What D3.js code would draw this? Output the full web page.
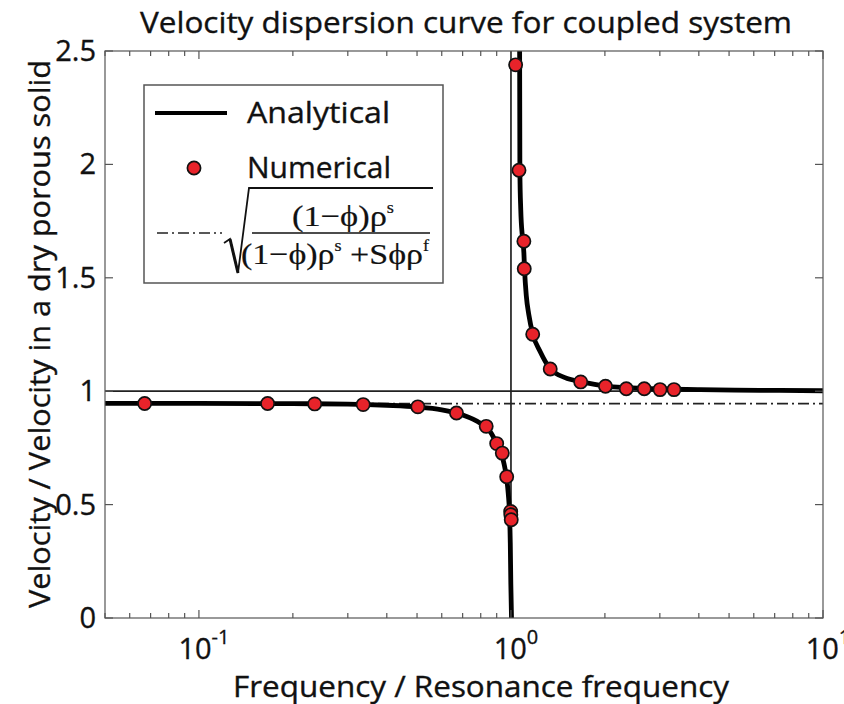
<!DOCTYPE html>
<meta charset="utf-8">
<script src="https://d3js.org/d3.v7.min.js"></script>
<style>
    body { margin: 0; background: #fff; }
    text { font-family: "Open Sans", "Noto Sans", sans-serif; fill: #111; stroke: #111; stroke-width: 0.35px; }
    .serif { font-family: "Liberation Serif", "DejaVu Serif", serif; stroke-width: 0.2px; }
</style>
<body>
<script>
    // plot box
    var margin = {top: 51, right: 21, bottom: 86, left: 105},
        width = 844 - margin.left - margin.right,
        height = 704 - margin.top - margin.bottom;

    // numerical points (frequency / resonance frequency, velocity ratio)
    var lowFreq  = [0.067, 0.166, 0.235, 0.336, 0.503, 0.669, 0.833, 0.900, 0.938, 0.969, 0.998, 0.999, 1.002];
    var lowVel   = [0.946, 0.946, 0.944, 0.941, 0.931, 0.904, 0.845, 0.769, 0.727, 0.623, 0.470, 0.455, 0.433];
    var highFreq = [1.035, 1.061, 1.100, 1.103, 1.174, 1.336, 1.673, 2.009, 2.342, 2.674, 3.004, 3.330];
    var highVel  = [2.439, 1.974, 1.661, 1.540, 1.251, 1.098, 1.041, 1.022, 1.011, 1.011, 1.007, 1.007];

    // analytical curve, two branches
    var curveLowFreq  = [0.05, 0.1, 0.2, 0.3, 0.4, 0.5, 0.6, 0.7, 0.8, 0.85, 0.9, 0.93, 0.95, 0.97, 0.98, 0.99, 0.995, 0.999, 1.004];
    var curveLowVel   = [0.946, 0.946, 0.945, 0.943, 0.938, 0.931, 0.918, 0.895, 0.858, 0.83, 0.77, 0.73, 0.68, 0.61, 0.55, 0.45, 0.33, 0.15, 0.0];
    var curveHighFreq = [1.066, 1.068, 1.075, 1.088, 1.100, 1.106, 1.12, 1.14, 1.176, 1.24, 1.334, 1.49, 1.676, 2.016, 2.79, 4.04, 6.28, 10];
    var curveHighVel  = [2.5, 1.97, 1.80, 1.68, 1.61, 1.53, 1.42, 1.34, 1.25, 1.175, 1.10, 1.06, 1.042, 1.022, 1.011, 1.007, 1.004, 1.002];

    var staticLimit = 0.945;   // dash-dot line
    var yTicks = [0, 0.5, 1, 1.5, 2, 2.5];
    var yTickLabels = ["0", "0.5", "1", "1.5", "2", "2.5"];
    var xMajor = [0.1, 1, 10];
    var xMajorExp = ["-1", "0", "1"];

    var svg = d3.select("body")
        .append("svg")
            .attr("width", 844)
            .attr("height", 704);

    var g = svg.append("g")
        .attr("transform", "translate(" + margin.left + "," + margin.top + ")");

    var x = d3.scaleLog().domain([0.05, 10]).range([0, width]);
    var y = d3.scaleLinear().domain([0, 2.5]).range([height, 0]);

    g.append("clipPath").attr("id", "clip")
      .append("rect").attr("width", width).attr("height", height);

    var plot = g.append("g").attr("clip-path", "url(#clip)");

    // reference lines: v = 1 and f = 1
    plot.append("line")
        .attr("x1", 0).attr("x2", width)
        .attr("y1", y(1)).attr("y2", y(1))
        .attr("stroke", "#222").attr("stroke-width", 1.7);
    plot.append("line")
        .attr("x1", x(1)).attr("x2", x(1))
        .attr("y1", 0).attr("y2", height)
        .attr("stroke", "#222").attr("stroke-width", 1.7);

    // dash-dot static limit
    plot.append("line")
        .attr("x1", 0).attr("x2", width)
        .attr("y1", y(staticLimit)).attr("y2", y(staticLimit))
        .attr("stroke", "#222").attr("stroke-width", 1.7)
        .attr("stroke-dasharray", "11,4,2,4");

    var line = d3.line()
        .x(function(d) { return x(d[0]); })
        .y(function(d) { return y(d[1]); })
        .curve(d3.curveMonotoneX);

    var lowCurve = curveLowFreq.map(function(f, i) { return [f, curveLowVel[i]]; });
    var highCurve = curveHighFreq.map(function(f, i) { return [f, curveHighVel[i]]; });

    [lowCurve, highCurve].forEach(function(c) {
        plot.append("path")
            .datum(c)
            .attr("d", line)
            .attr("fill", "none")
            .attr("stroke", "#000")
            .attr("stroke-width", 4.8)
            .attr("stroke-linejoin", "round");
    });

    var pts = lowFreq.map(function(f, i) { return [f, lowVel[i]]; })
        .concat(highFreq.map(function(f, i) { return [f, highVel[i]]; }));

    plot.selectAll("circle.pt")
        .data(pts)
        .enter()
        .append("circle")
            .attr("class", "pt")
            .attr("cx", function(d) { return x(d[0]); })
            .attr("cy", function(d) { return y(d[1]); })
            .attr("r", 6.6)
            .attr("fill", "#e8232a")
            .attr("stroke", "#111")
            .attr("stroke-width", 1.7);

    // frame
    g.append("rect")
        .attr("width", width).attr("height", height)
        .attr("fill", "none").attr("stroke", "#555").attr("stroke-width", 1.2);

    // x ticks, inward on bottom and top
    var xt = x.ticks();
    xt.forEach(function(t) {
        var major = Math.abs(Math.log10(t) - Math.round(Math.log10(t))) < 1e-9;
        var len = major ? 8 : 5;
        g.append("line").attr("x1", x(t)).attr("x2", x(t))
            .attr("y1", height).attr("y2", height - len)
            .attr("stroke", "#555").attr("stroke-width", 1.2);
        g.append("line").attr("x1", x(t)).attr("x2", x(t))
            .attr("y1", 0).attr("y2", len)
            .attr("stroke", "#555").attr("stroke-width", 1.2);
    });

    xMajor.forEach(function(t, i) {
        var lbl = g.append("text")
            .attr("x", x(t) + 5)
            .attr("y", height + 41)
            .attr("text-anchor", "middle")
            .style("font-size", "29px");
        lbl.append("tspan").text("10");
        lbl.append("tspan").attr("dy", -15).style("font-size", "20px").text(xMajorExp[i]);
    });

    // y ticks
    yTicks.forEach(function(t, i) {
        g.append("line").attr("x1", 0).attr("x2", 8)
            .attr("y1", y(t)).attr("y2", y(t))
            .attr("stroke", "#555").attr("stroke-width", 1.2);
        g.append("line").attr("x1", width).attr("x2", width - 8)
            .attr("y1", y(t)).attr("y2", y(t))
            .attr("stroke", "#555").attr("stroke-width", 1.2);
        g.append("text")
            .attr("x", -9)
            .attr("y", y(t) + 10)
            .attr("text-anchor", "end")
            .style("font-size", "29px")
            .text(yTickLabels[i]);
    });

    // titles
    svg.append("text")
        .attr("x", 466).attr("y", 33)
        .attr("text-anchor", "middle")
        .attr("textLength", 652).attr("lengthAdjust", "spacingAndGlyphs")
        .style("font-size", "30px")
        .text("Velocity dispersion curve for coupled system");

    svg.append("text")
        .attr("x", 481).attr("y", 697)
        .attr("text-anchor", "middle")
        .attr("textLength", 496).attr("lengthAdjust", "spacingAndGlyphs")
        .style("font-size", "29px")
        .text("Frequency / Resonance frequency");

    svg.append("text")
        .attr("transform", "translate(50,334) rotate(-90)")
        .attr("text-anchor", "middle")
        .attr("textLength", 548).attr("lengthAdjust", "spacingAndGlyphs")
        .style("font-size", "30px")
        .text("Velocity / Velocity in a dry porous solid");

    // legend
    var lg = svg.append("g");
    lg.append("rect")
        .attr("x", 144).attr("y", 85).attr("width", 299).attr("height", 198)
        .attr("fill", "#fff").attr("stroke", "#555").attr("stroke-width", 1.5);

    lg.append("line").attr("x1", 155).attr("x2", 227).attr("y1", 113).attr("y2", 113)
        .attr("stroke", "#000").attr("stroke-width", 4);
    lg.append("text").attr("x", 247).attr("y", 123)
        .attr("textLength", 143).attr("lengthAdjust", "spacingAndGlyphs")
        .style("font-size", "30px").text("Analytical");

    lg.append("circle").attr("cx", 194).attr("cy", 168).attr("r", 6.6)
        .attr("fill", "#e8232a").attr("stroke", "#111").attr("stroke-width", 1.7);
    lg.append("text").attr("x", 247).attr("y", 178)
        .attr("textLength", 144).attr("lengthAdjust", "spacingAndGlyphs")
        .style("font-size", "30px").text("Numerical");

    lg.append("line").attr("x1", 157).attr("x2", 222).attr("y1", 233).attr("y2", 233)
        .attr("stroke", "#222").attr("stroke-width", 1.7)
        .attr("stroke-dasharray", "11,4,2,4");

    // square root of the fraction
    lg.append("path")
        .attr("d", "M224,243 L230,239 L238,273 L249,188 L433,188")
        .attr("fill", "none").attr("stroke", "#111").attr("stroke-width", 1.8)
        .attr("stroke-linejoin", "miter");
    lg.append("path")
        .attr("d", "M230,239 L238,273")
        .attr("fill", "none").attr("stroke", "#111").attr("stroke-width", 3);
    lg.append("line").attr("x1", 252).attr("x2", 430).attr("y1", 233).attr("y2", 233)
        .attr("stroke", "#111").attr("stroke-width", 1.6);

    var num = lg.append("text").attr("class", "serif")
        .attr("x", 292).attr("y", 226)
        .attr("textLength", 102).attr("lengthAdjust", "spacingAndGlyphs")
        .style("font-size", "30px");
    num.append("tspan").text("(1\u2212\u03d5)\u03c1");
    num.append("tspan").attr("dy", -13).style("font-size", "16px").text("s");

    var den = lg.append("text").attr("class", "serif")
        .attr("x", 241).attr("y", 264)
        .attr("textLength", 188).attr("lengthAdjust", "spacingAndGlyphs")
        .style("font-size", "30px");
    den.append("tspan").text("(1\u2212\u03d5)\u03c1");
    den.append("tspan").attr("dy", -13).style("font-size", "16px").text("s");
    den.append("tspan").attr("dy", 13).text(" +S\u03d5\u03c1");
    den.append("tspan").attr("dy", -13).style("font-size", "16px").text("f");
</script>
</body>
